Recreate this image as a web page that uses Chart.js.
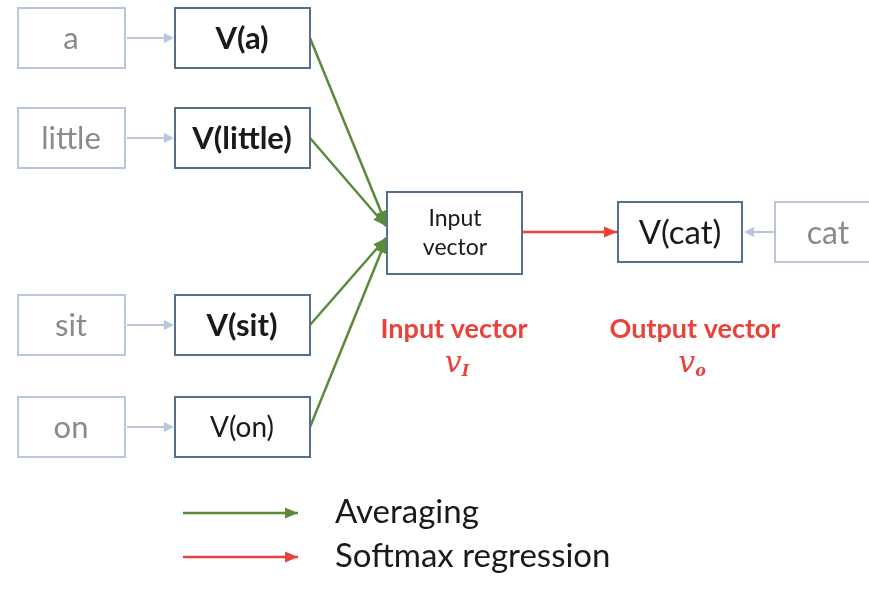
<!DOCTYPE html>
<html>
<head>
<meta charset="utf-8">
<script src="https://cdn.jsdelivr.net/npm/chart.js@4.4.0/dist/chart.umd.min.js"></script>
<style>
  html, body { margin: 0; padding: 0; background: #fff; }
  #wrap { width: 869px; height: 593px; position: relative; }
</style>
</head>
<body>
<div id="wrap"><canvas id="c"></canvas></div>
<script>
// diagram content, in layout units (x: 0..869, y: 0..593 top-down)
const contextWords = ["a", "little", "sit", "on"];
const contextVectors = ["V(a)", "V(little)", "V(sit)", "V(on)"];
const contextRows = [38, 138, 325, 427];
const targetWord = "cat";
const targetVector = "V(cat)";
const hiddenLabel = ["Input", "vector"];
const legendLabels = ["Averaging", "Softmax regression"];
const legendRows = [513, 557];

const GREEN = "#5b8a3c";
const RED = "#e8423a";
const LIGHT = "#b9c6dc";
const DARK = "#55708f";
const FONT = "Lato, 'Open Sans', sans-serif";

// averaging lines: each context vector -> input vector
const avgEnds = [224, 226, 238, 240];
const datasets = contextRows.map((y, i) => ({
  data: [{ x: 310, y: y }, { x: 386, y: avgEnds[i] }],
  showLine: true,
  borderColor: GREEN,
  borderWidth: 2.5,
  pointRadius: 0,
  arrow: GREEN,
}));
datasets.push({
  data: [{ x: 522, y: 232 }, { x: 617, y: 232 }],
  showLine: true, borderColor: RED, borderWidth: 2.5, pointRadius: 0, arrow: RED,
});
legendRows.forEach((y, i) => {
  const col = i === 0 ? GREEN : RED;
  datasets.push({
    data: [{ x: 183, y: y }, { x: 298, y: y }],
    showLine: true, borderColor: col, borderWidth: 2.5, pointRadius: 0, arrow: col,
  });
});

function arrowHead(ctx, x1, y1, x2, y2, color, len, wid) {
  const a = Math.atan2(y2 - y1, x2 - x1);
  ctx.save();
  ctx.fillStyle = color;
  ctx.beginPath();
  ctx.moveTo(x2, y2);
  ctx.lineTo(x2 - len * Math.cos(a) + wid * Math.sin(a), y2 - len * Math.sin(a) - wid * Math.cos(a));
  ctx.lineTo(x2 - len * Math.cos(a) - wid * Math.sin(a), y2 - len * Math.sin(a) + wid * Math.cos(a));
  ctx.closePath();
  ctx.fill();
  ctx.restore();
}

const diagram = {
  id: "diagram",
  afterDatasetsDraw(chart) {
    const { ctx, scales: { x, y } } = chart;
    const px = (v) => x.getPixelForValue(v);
    const py = (v) => y.getPixelForValue(v);

    const box = (x0, y0, x1, y1, stroke, lw) => {
      ctx.save();
      ctx.strokeStyle = stroke;
      ctx.lineWidth = lw;
      ctx.strokeRect(px(x0), py(y0), px(x1) - px(x0), py(y1) - py(y0));
      ctx.restore();
    };
    const text = (s, xv, yv, font, color, align) => {
      ctx.save();
      ctx.font = font;
      ctx.fillStyle = color;
      ctx.textAlign = align || "center";
      ctx.textBaseline = "middle";
      ctx.fillText(s, px(xv), py(yv));
      ctx.restore();
    };
    const thin = (x0, x1, yv) => {
      ctx.save();
      ctx.strokeStyle = LIGHT;
      ctx.lineWidth = 2;
      ctx.beginPath();
      ctx.moveTo(px(x0), py(yv));
      ctx.lineTo(px(x1 + (x1 > x0 ? -8 : 8)), py(yv));
      ctx.stroke();
      ctx.restore();
      arrowHead(ctx, px(x0), py(yv), px(x1), py(yv), LIGHT, 10, 5);
    };

    // arrowheads on the dataset lines
    chart.data.datasets.forEach((ds) => {
      const p = ds.data;
      arrowHead(ctx, px(p[0].x), py(p[0].y), px(p[1].x), py(p[1].y), ds.arrow, 13, 5.5);
    });

    // context words and their vectors
    contextRows.forEach((r, i) => {
      box(18, r - 30, 125, r + 30, LIGHT, 2);
      text(contextWords[i], 71, r + 1, "31px " + FONT, "#8a8a8a");
      thin(127, 174, r);
      box(175, r - 30, 310, r + 30, DARK, 2);
      const f = i === 3 ? "28px " : "bold 31px ";
      text(contextVectors[i], 242, r + 1, f + FONT, "#1a1a1a");
    });

    // hidden layer
    box(387, 192, 522, 274, DARK, 2);
    text(hiddenLabel[0], 455, 219, "23px " + FONT, "#1a1a1a");
    text(hiddenLabel[1], 455, 248, "23px " + FONT, "#1a1a1a");

    // output side
    box(618, 202, 742, 262, DARK, 2);
    text(targetVector, 680, 233, "33px " + FONT, "#1a1a1a");
    box(775, 202, 885, 262, LIGHT, 2);
    text(targetWord, 828, 234, "32px " + FONT, "#8a8a8a");
    thin(775, 744, 232);

    // red labels
    text("Input vector", 454, 329, "bold 27px " + FONT, RED);
    text("Output vector", 695, 329, "bold 27px " + FONT, RED);
    const sym = (base, sub, xv) => {
      ctx.save();
      ctx.fillStyle = RED;
      ctx.textBaseline = "alphabetic";
      ctx.font = "italic 30px 'DejaVu Serif', serif";
      const w = ctx.measureText(base).width;
      ctx.font = "italic bold 16px 'DejaVu Serif', serif";
      const ws = ctx.measureText(sub).width;
      const x0 = px(xv) - (w + ws) / 2;
      ctx.font = "italic 30px 'DejaVu Serif', serif";
      ctx.fillText(base, x0, py(372));
      ctx.font = "italic bold 16px 'DejaVu Serif', serif";
      ctx.fillText(sub, x0 + w, py(376));
      ctx.restore();
    };
    sym("v", "I", 457);
    sym("v", "o", 692);

    // legend
    legendLabels.forEach((s, i) => {
      text(s, 335, legendRows[i] - 1, "33px " + FONT, "#1a1a1a", "left");
    });
  },
};

new Chart(document.getElementById("c"), {
  type: "scatter",
  data: { datasets },
  options: {
    responsive: true,
    maintainAspectRatio: false,
    animation: false,
    layout: { padding: 0 },
    plugins: { legend: { display: false }, tooltip: { enabled: false } },
    scales: {
      x: { type: "linear", min: 0, max: 869, display: false },
      y: { type: "linear", min: 0, max: 593, reverse: true, display: false },
    },
  },
  plugins: [diagram],
});
</script>
</body>
</html>
